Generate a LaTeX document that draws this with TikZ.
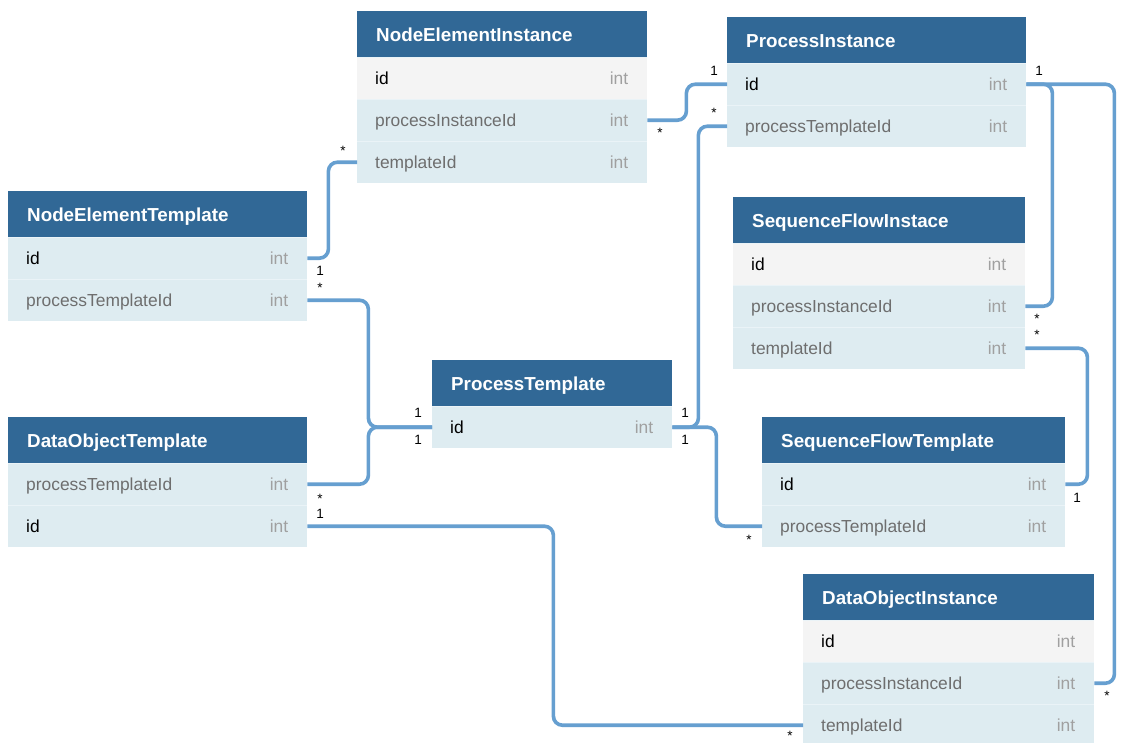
\documentclass[tikz,border=0pt]{standalone}
\usepackage{fontspec}
\setmainfont{Liberation Sans}
\definecolor{hdrblue}{HTML}{316896}
\definecolor{rowblue}{HTML}{DEECF1}
\definecolor{rowgray}{HTML}{F4F4F4}
\definecolor{sepc}{HTML}{EAF3F7}
\definecolor{linkblue}{HTML}{669FD0}
\definecolor{fieldgray}{HTML}{6E6E6E}
\definecolor{typegray}{HTML}{A0A0A0}

% table header: coloured bar with the table name
\newcommand\erhead[5]{%
  \node[hdrbox, minimum width=#4pt, anchor=north west] (#1) at (#2,#3) {};
  \node[hdrtxt, anchor=base west] (#1-title) at ([xshift=19pt,yshift=-7pt]#1.west) {#5};
}
% table row: background, thin separator, field name and type
\newcommand\errow[7]{%
  \node[rowbox, fill=#5, minimum width=#4pt, anchor=north west] (#1) at (#2,#3) {};
  \draw[sepline] (#1.north west) -- (#1.north east);
  \node[#6, anchor=base west] (#1-n) at ([xshift=18pt,yshift=-6pt]#1.west) {#7};
  \node[typtxt, anchor=base east] (#1-t) at ([xshift=-19pt,yshift=-6pt]#1.east) {int};
}

\begin{document}
\begin{tikzpicture}[x=1pt,y=-1pt,
  hdrbox/.style={rectangle, fill=hdrblue, draw=none, inner sep=0pt, minimum height=46pt},
  rowbox/.style={rectangle, draw=none, inner sep=0pt, minimum height=42pt},
  sepline/.style={draw=sepc, line width=0.8pt},
  hdrtxt/.style={text=white, inner sep=0pt, font=\bfseries\fontsize{18.8}{20}\selectfont},
  keytxt/.style={text=black, inner sep=0pt, font=\fontsize{17.4}{20}\selectfont},
  fldtxt/.style={text=fieldgray, inner sep=0pt, font=\fontsize{17.4}{20}\selectfont},
  typtxt/.style={text=typegray, inner sep=0pt, font=\fontsize{17.4}{20}\selectfont},
  conn/.style={draw=linkblue, line width=3.6pt, rounded corners=9pt},
  card/.style={text=black, inner sep=0pt, font=\fontsize{13.5}{13.5}\selectfont}]

\useasboundingbox[fill=white] (0,0) rectangle (1123,742);

% ---- tables ----
\erhead{nei}{357}{11}{290}{NodeElementInstance}
\errow{nei-id}{357}{57}{290}{rowgray}{keytxt}{id}
\errow{nei-pi}{357}{99}{290}{rowblue}{fldtxt}{processInstanceId}
\errow{nei-tid}{357}{141}{290}{rowblue}{fldtxt}{templateId}

\erhead{pi}{727}{17}{299}{ProcessInstance}
\errow{pi-id}{727}{63}{299}{rowblue}{keytxt}{id}
\errow{pi-pt}{727}{105}{299}{rowblue}{fldtxt}{processTemplateId}

\erhead{sfi}{733}{197}{292}{SequenceFlowInstace}
\errow{sfi-id}{733}{243}{292}{rowgray}{keytxt}{id}
\errow{sfi-pi}{733}{285}{292}{rowblue}{fldtxt}{processInstanceId}
\errow{sfi-tid}{733}{327}{292}{rowblue}{fldtxt}{templateId}

\erhead{net}{8}{191}{299}{NodeElementTemplate}
\errow{net-id}{8}{237}{299}{rowblue}{keytxt}{id}
\errow{net-pt}{8}{279}{299}{rowblue}{fldtxt}{processTemplateId}

\erhead{dot}{8}{417}{299}{DataObjectTemplate}
\errow{dot-pt}{8}{463}{299}{rowblue}{fldtxt}{processTemplateId}
\errow{dot-id}{8}{505}{299}{rowblue}{keytxt}{id}

\erhead{pt}{432}{360}{240}{ProcessTemplate}
\errow{pt-id}{432}{406}{240}{rowblue}{keytxt}{id}

\erhead{sft}{762}{417}{303}{SequenceFlowTemplate}
\errow{sft-id}{762}{463}{303}{rowblue}{keytxt}{id}
\errow{sft-pt}{762}{505}{303}{rowblue}{fldtxt}{processTemplateId}

\erhead{doi}{803}{574}{291}{DataObjectInstance}
\errow{doi-id}{803}{620}{291}{rowgray}{keytxt}{id}
\errow{doi-pi}{803}{662}{291}{rowblue}{fldtxt}{processInstanceId}
\errow{doi-tid}{803}{704}{291}{rowblue}{fldtxt}{templateId}

% ---- relations ----
\draw[conn] (net-id.east) -- ++(21,0) |- (nei-tid.west);
\draw[conn] (net-pt.east) -- ++(61,0) |- (pt-id.west);
\draw[conn] (dot-pt.east) -- ++(61,0) |- (pt-id.west);
\draw[conn] (pt-id.east) -- ++(26,0) |- (pi-pt.west);
\draw[conn] (pt-id.east) -- ++(44,0) |- (sft-pt.west);
\draw[conn] (nei-pi.east) -- ++(39,0) |- (pi-id.west);
\draw[conn] (pi-id.east) -- ++(26,0) |- (sfi-pi.east);
\draw[conn] (pi-id.east) -- ++(88,0) |- (doi-pi.east);
\draw[conn] (sfi-tid.east) -- ++(62,0) |- (sft-id.east);
\draw[conn] (dot-id.east) -- ++(246,0) |- (doi-tid.west);

% ---- cardinalities ----
\node[card] (k1a) at (320,271) {1};
\node[card] (k1b) at (343,151) {*};
\node[card] (k2a) at (320,287.5) {*};
\node[card] (k2b) at (418,413) {1};
\node[card] (k2c) at (320,498.5) {*};
\node[card] (k2d) at (418,440) {1};
\node[card] (k3a) at (685,413) {1};
\node[card] (k3b) at (714,113) {*};
\node[card] (k3c) at (685,440) {1};
\node[card] (k3d) at (749,540) {*};
\node[card] (k4a) at (660,133) {*};
\node[card] (k4b) at (714,71) {1};
\node[card] (k5a) at (1039,71) {1};
\node[card] (k5b) at (1037,319) {*};
\node[card] (k5c) at (1107,696) {*};
\node[card] (k6a) at (1037,335) {*};
\node[card] (k6b) at (1077,498) {1};
\node[card] (k7a) at (320,514) {1};
\node[card] (k7b) at (790,736) {*};
\end{tikzpicture}
\end{document}
